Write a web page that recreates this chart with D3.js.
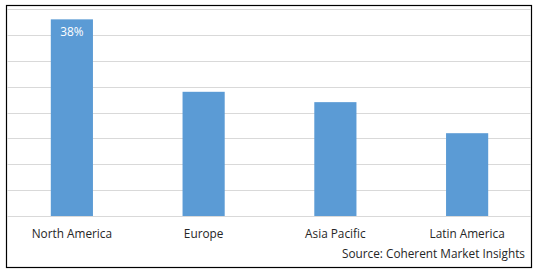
<!DOCTYPE html>
<html>
<head>
<meta charset="utf-8">
<script src="https://cdn.jsdelivr.net/npm/d3@7"></script>
<style>
  body { margin: 0; background: #fff; }
  text { font-family: "Open Sans", "Liberation Sans", Arial, sans-serif; }
</style>
</head>
<body>
<div class="plot"></div>
<script>
// chart data
let regions = ["North America", "Europe", "Asia Pacific", "Latin America"];
let shares = [38, 24, 22, 16];
let labelShown = ["38%", "", "", ""];
let yTicks = [0, 5, 10, 15, 20, 25, 30, 35, 40];

let w = 538;
let h = 272;
let fontSize = 11.8;

let svg = d3.select(".plot").append("svg")
    .attr("width", w)
    .attr("height", h);

// outer frame
svg.append("rect")
    .attr("x", 6.5)
    .attr("y", 5.5)
    .attr("width", 525)
    .attr("height", 262)
    .attr("fill", "#fff")
    .attr("stroke", "#000")
    .attr("stroke-width", 1.2);

let xScale = d3.scaleBand()
    .domain(regions)
    .range([6, 533])
    .paddingInner(0.68)
    .paddingOuter(0.34);

let yScale = d3.scaleLinear()
    .domain([0, 40])
    .range([216, 9]);

// gridlines
svg.selectAll(".grid")
    .data(yTicks)
    .enter().append("line")
    .attr("class", "grid")
    .attr("x1", 7)
    .attr("x2", 531)
    .attr("y1", d => Math.round(yScale(d)) + 0.5)
    .attr("y2", d => Math.round(yScale(d)) + 0.5)
    .attr("stroke", "#d9d9d9")
    .attr("stroke-width", 1);

// bars
svg.selectAll(".bar")
    .data(shares)
    .enter().append("rect")
    .attr("class", "bar")
    .attr("x", (d, i) => xScale(regions[i]))
    .attr("width", xScale.bandwidth())
    .attr("y", d => yScale(d))
    .attr("height", d => yScale(0) - yScale(d))
    .attr("fill", "#5b9bd5");

// value label inside the first bar
svg.selectAll(".valueLabel")
    .data(shares)
    .enter().append("text")
    .attr("class", "valueLabel")
    .attr("x", (d, i) => xScale(regions[i]) + xScale.bandwidth() / 2)
    .attr("y", d => yScale(d) + 13.5)
    .attr("text-anchor", "middle")
    .attr("dominant-baseline", "middle")
    .attr("font-size", fontSize)
    .attr("fill", "#fff")
    .text((d, i) => labelShown[i]);

// category axis labels
let xAxis = d3.axisBottom(xScale).tickSize(0).tickPadding(13.5);
let axisG = svg.append("g")
    .attr("transform", "translate(0,216)")
    .call(xAxis);
axisG.select(".domain").remove();
axisG.selectAll("text")
    .attr("font-family", "Open Sans, Liberation Sans, Arial, sans-serif")
    .attr("font-size", fontSize)
    .attr("fill", "#262626");

// source note
svg.append("text")
    .attr("x", 525)
    .attr("y", 258)
    .attr("text-anchor", "end")
    .attr("font-size", fontSize)
    .attr("fill", "#262626")
    .text("Source: Coherent Market Insights");
</script>
</body>
</html>
